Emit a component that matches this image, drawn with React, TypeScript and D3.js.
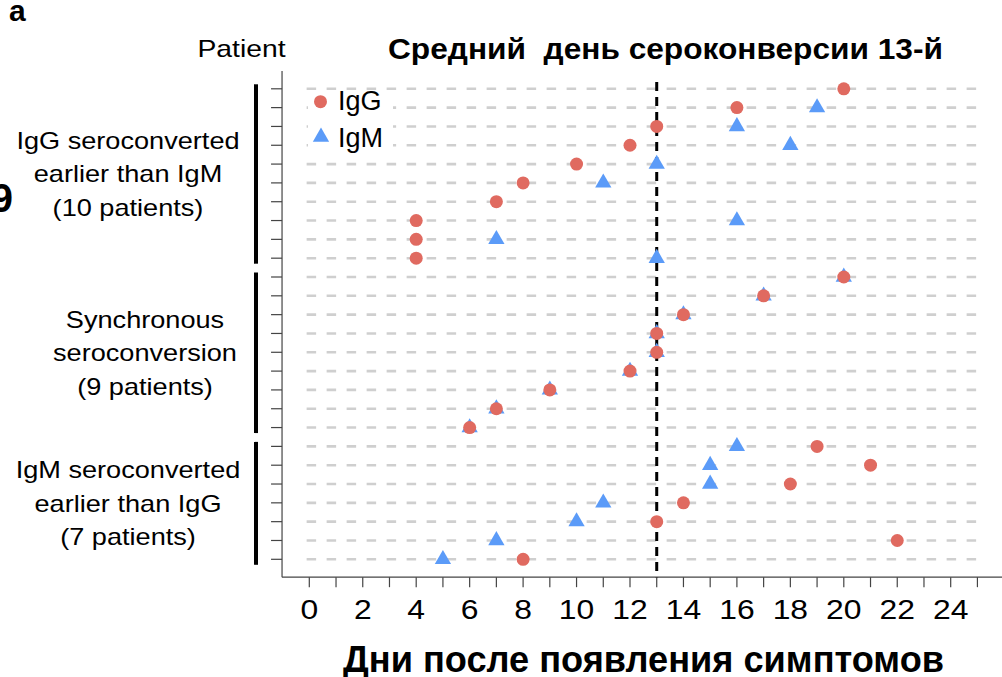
import React from 'react';
import * as d3 from 'd3';

// IgG / IgM seroconversion day for each of the 26 patients, top to bottom
const iggDay = [20, 16, 13, 12, 10, 8, 7, 4, 4, 4, 20, 17, 14, 13, 13, 12, 9, 7, 6, 19, 21, 18, 14, 13, 22, 8];
const igmDay: (number | null)[] = [null, 19, 16, 18, 13, 11, null, 16, 7, 13, 20, 17, 14, 13, 13, 12, 9, 7, 6, 16, 15, 15, 11, 10, 7, 5];

const groupSizes = [10, 9, 7];
const groupLabels = [
  ['IgG seroconverted', 'earlier than IgM', '(10 patients)'],
  ['Synchronous', 'seroconversion', '(9 patients)'],
  ['IgM seroconverted', 'earlier than IgG', '(7 patients)'],
];

const medianDay = 13;
const xTickLabels = [0, 2, 4, 6, 8, 10, 12, 14, 16, 18, 20, 22, 24];
const titleText = 'Средний  день сероконверсии 13-й';
const xTitle = 'Дни после появления симптомов';

const W = 1002;
const H = 677;
const RED = '#E06A60';
const BLUE = '#5B9BF8';
const FONT = '"Liberation Sans", Arial, Helvetica, sans-serif';
const NARROW = '"Liberation Sans Narrow", "Arial Narrow", "Liberation Sans", Arial, sans-serif';
const SX = 1.18; // the original figure was stretched sideways

export default function App() {
  const x = d3.scaleLinear().domain([0, 24]).range([309.3, 950.7]);
  const y = d3.scaleLinear().domain([1, 26]).range([88.8, 559.3]);

  const rows = d3.range(1, iggDay.length + 1);
  const axisX = x(-1.02);
  const axisTop = y(0.05);
  const axisBottom = y(26.95);

  // first / last row for each group
  const groups = groupSizes.map((n, i) => {
    const start = d3.sum(groupSizes.slice(0, i)) + 1;
    return { start, end: start + n - 1, labels: groupLabels[i] };
  });
  const labelCx = [128, 145, 128];

  const tri = d3.symbol(d3.symbolTriangle, 115)() as string;

  return (
    <svg width={W} height={H} style={{ position: 'absolute', left: 0, top: 0, background: '#fff' }}
      fontFamily={FONT}>
      <rect width={W} height={H} fill="#fff" />

      {/* panel letter and the cut-off neighbour */}
      <text x={9} y={21} fontSize={30} fontWeight="bold">a</text>
      <text x={13} y={212} fontSize={40} fontWeight="bold" textAnchor="end">9</text>

      <text fontWeight="bold" fontFamily={NARROW} fontSize={29}
        x={388} y={59} textLength={555} lengthAdjust="spacingAndGlyphs"
        style={{ whiteSpace: 'pre' }}>{titleText}</text>

      <text fontSize={24} textAnchor="middle" transform={`translate(241.5,57) scale(${SX},1)`}>Patient</text>

      {/* row guides */}
      {rows.map(r => (
        <line key={'g' + r} x1={x(-0.1)} x2={x(25)} y1={y(r)} y2={y(r)}
          stroke="#cfcfcf" strokeWidth={2.6} strokeDasharray="9.5,10.5" />
      ))}

      {/* axes */}
      <line x1={axisX} x2={axisX} y1={axisTop} y2={axisBottom} stroke="#444" strokeWidth={1.2} />
      <line x1={axisX} x2={W} y1={axisBottom} y2={axisBottom} stroke="#444" strokeWidth={1.2} />
      {rows.map(r => (
        <line key={'yt' + r} x1={axisX - 11} x2={axisX} y1={y(r)} y2={y(r)} stroke="#444" strokeWidth={1.2} />
      ))}
      {d3.range(0, 26).map(d => (
        <line key={'xt' + d} x1={x(d)} x2={x(d)} y1={axisBottom} y2={axisBottom + 10} stroke="#444" strokeWidth={1.2} />
      ))}
      {xTickLabels.map(d => (
        <text key={'xl' + d} fontSize={27} textAnchor="middle"
          transform={`translate(${x(d)},619) scale(${SX},1)`}>{d}</text>
      ))}

      {/* median line */}
      <line x1={x(medianDay)} x2={x(medianDay)} y1={82} y2={axisBottom}
        stroke="#000" strokeWidth={3} strokeDasharray="9,6" />

      {/* group brackets and labels */}
      {groups.map((g, i) => {
        const mid = (y(g.start) + y(g.end)) / 2;
        return (
          <g key={'grp' + i}>
            <line x1={256} x2={256} y1={y(g.start) - 4.5} y2={y(g.end) + 5.5} stroke="#000" strokeWidth={4} />
            {g.labels.map((t, j) => (
              <text key={j} fontSize={23} textAnchor="middle"
                transform={`translate(${labelCx[i]},${mid + 9 + (j - 1) * 33.5}) scale(${SX},1)`}>{t}</text>
            ))}
          </g>
        );
      })}

      {/* points: triangles underneath, circles on top */}
      {igmDay.map((d, i) => d == null ? null : (
        <path key={'m' + i} d={tri} transform={`translate(${x(d)},${y(i + 1)})`} fill={BLUE} />
      ))}
      {iggDay.map((d, i) => (
        <circle key={'c' + i} cx={x(d)} cy={y(i + 1)} r={6.5} fill={RED} />
      ))}

      {/* legend */}
      <rect x={308} y={90} width={85} height={62} fill="#fff" />
      <circle cx={320.5} cy={101.7} r={6.5} fill={RED} />
      <text x={338} y={110} fontSize={27}>IgG</text>
      <path d={tri} transform="translate(321,137)" fill={BLUE} />
      <text x={338} y={147} fontSize={27}>IgM</text>

      <text fontWeight="bold" fontFamily={NARROW} fontSize={37}
        x={343} y={672} textLength={601} lengthAdjust="spacingAndGlyphs">{xTitle}</text>
    </svg>
  );
}
